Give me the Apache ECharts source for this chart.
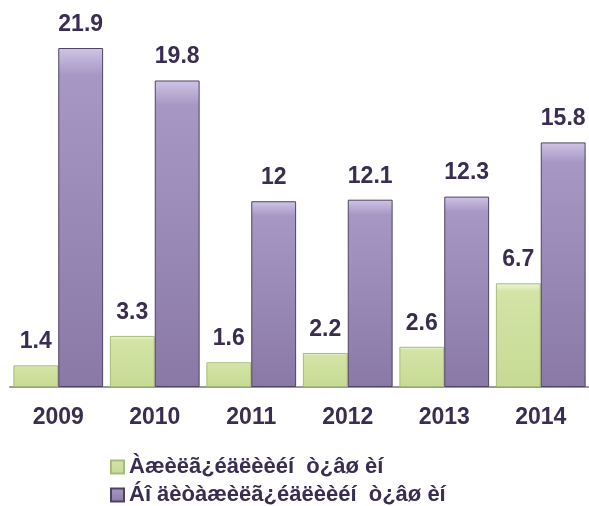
<!DOCTYPE html>
<html>
<head>
<meta charset="utf-8">
<script src="https://cdn.jsdelivr.net/npm/echarts@6/dist/echarts.min.js"></script>
<style>
  html, body { margin: 0; padding: 0; background: #fff; }
  #chart { width: 589px; height: 506px; }
</style>
</head>
<body>
<div id="chart"></div>
<script>
var years = ['2009', '2010', '2011', '2012', '2013', '2014'];
var seriesNames = ['Àæèëã¿éäëèèéí  ò¿âø èí', 'Áî äèòàæèëã¿éäëèèéí  ò¿âø èí'];
var greenValues = [1.4, 3.3, 1.6, 2.2, 2.6, 6.7];
var purpleValues = [21.9, 19.8, 12, 12.1, 12.3, 15.8];

var textColor = '#3a2d52';
var font = 'Liberation Sans, Arial';

function grad(top, mid, bottom) {
    return new echarts.graphic.LinearGradient(0, 0, 0, 1, [
        { offset: 0, color: top },
        { offset: 0.08, color: mid },
        { offset: 1, color: bottom }
    ]);
}

var labelOpt = {
    show: true,
    position: 'top',
    distance: 12,
    color: textColor,
    fontFamily: font,
    fontWeight: 'bold',
    fontSize: 23
};

function legendAt(name, top) {
    return {
        orient: 'horizontal',
        left: 105,
        top: top,
        icon: 'rect',
        itemWidth: 13,
        itemHeight: 13,
        itemGap: 4,
        textStyle: {
            color: textColor,
            fontFamily: font,
            fontWeight: 'bold',
            fontSize: 22
        },
        data: [name]
    };
}

var chart = echarts.init(document.getElementById('chart'));
chart.setOption({
    animation: false,
    grid: { left: 10, top: 0, width: 584, height: 387 },
    legend: [legendAt(seriesNames[0], 451), legendAt(seriesNames[1], 479)],
    xAxis: {
        type: 'category',
        data: years,
        axisLine: { lineStyle: { color: '#9a9a9a', width: 2 } },
        axisTick: { length: 8, lineStyle: { color: '#9a9a9a', width: 2 } },
        axisLabel: {
            margin: 19,
            color: textColor,
            fontFamily: font,
            fontWeight: 'bold',
            fontSize: 23
        }
    },
    yAxis: {
        type: 'value',
        min: 0,
        max: 25,
        show: false,
        splitLine: { show: false }
    },
    series: [
        {
            name: seriesNames[0],
            type: 'bar',
            data: greenValues,
            barGap: '0%',
            barCategoryGap: '7%',
            itemStyle: {
                color: grad('#eef6d6', '#d3e4a6', '#c6da94'),
                borderColor: '#a9bb7c',
                borderWidth: 1
            },
            label: labelOpt
        },
        {
            name: seriesNames[1],
            type: 'bar',
            data: purpleValues,
            itemStyle: {
                color: grad('#cfc4e6', '#a797c5', '#8a79a6'),
                borderColor: '#4e4460',
                borderWidth: 1
            },
            label: labelOpt
        }
    ]
});
</script>
</body>
</html>
